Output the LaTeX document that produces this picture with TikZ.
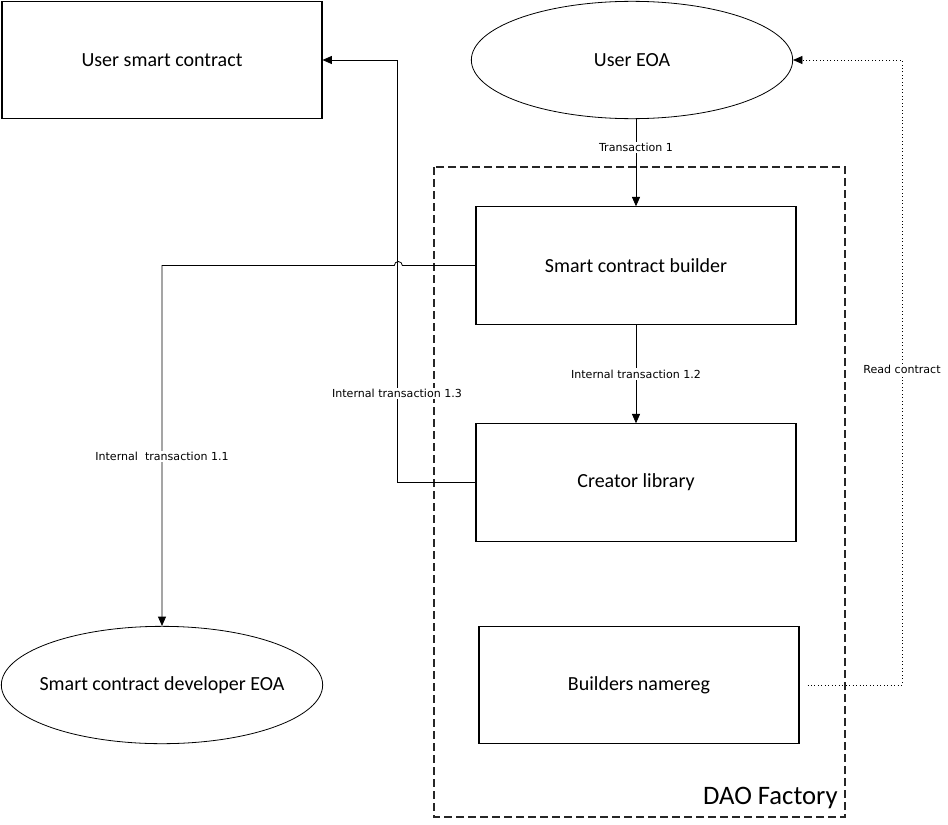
\documentclass[tikz,border=0pt]{standalone}
\usepackage{fontspec}
\setmainfont{Carlito}
\newfontfamily\lblfont{DejaVu Sans}
\usetikzlibrary{arrows.meta,shapes.geometric}

\begin{document}
\begin{tikzpicture}[x=0.75pt,y=0.75pt,
    box/.style={draw,line width=0.8pt,minimum width=240pt,minimum height=88pt,font=\fontsize{15}{17}\selectfont},
    oval/.style={ellipse,draw,line width=0.6pt,minimum width=241pt,minimum height=88pt,font=\fontsize{15}{17}\selectfont},
    lbl/.style={fill=white,inner sep=1pt,font=\lblfont\fontsize{8.3}{9}\selectfont},
    conn/.style={line width=0.6pt,-{Triangle[length=7pt,width=6pt]}}]
            \useasboundingbox (0,0) rectangle (948,-824);

            % DAO Factory frame
            \draw[line width=0.9pt,dash pattern=on 6pt off 3pt,black!85] (434,-167) rectangle (845,-817);
            \node[anchor=south east,inner sep=0pt,font=\fontsize{20}{22}\selectfont] (factory) at (838,-809) {DAO Factory};

            \node[box] (usc) at (162,-60) {User smart contract};
            \node[oval] (eoa) at (632,-60) {User EOA};
            \node[box] (builder) at (636,-265.5) {Smart contract builder};
            \node[box] (creator) at (636,-482.5) {Creator library};
            \node[box] (namereg) at (639,-685) {Builders namereg};
            \node[oval] (dev) at (162,-685) {\makebox[0pt]{Smart contract developer EOA}};

            \coordinate (c13) at (397,-60);
            \coordinate (c11) at (162,-265.5);
            \coordinate (crd) at (902,-685);

            % Transaction 1
            \draw[conn] (eoa.south -| builder.north) -- node[lbl,pos=0.33] {Transaction 1} (builder.north);
            % Internal transaction 1.2
            \draw[conn] (builder) -- node[lbl,pos=0.5] {Internal transaction 1.2} (creator);
            % Internal transaction 1.3
            \draw[conn] (creator.west) -- (creator.west -| c13) -- node[lbl,pos=0.21] {Internal transaction 1.3} (c13) -- (usc.east);
            % Internal transaction 1.1 (with jump over 1.3)
            \draw[conn] (builder.west) -- ([xshift=4pt]builder.west -| c13) arc (0:180:3pt)
                -- (c11) -- node[lbl,pos=0.53] {Internal\ \ transaction 1.1} (dev.north);
            % Read contract
            \draw[line width=0.6pt,dotted,-{Triangle[length=7pt,width=6pt]}] ([xshift=6pt]namereg.east) -- (crd)
                -- node[lbl,pos=0.505] {Read contract} (crd |- eoa.east) -- (eoa.east);
\end{tikzpicture}
\end{document}
